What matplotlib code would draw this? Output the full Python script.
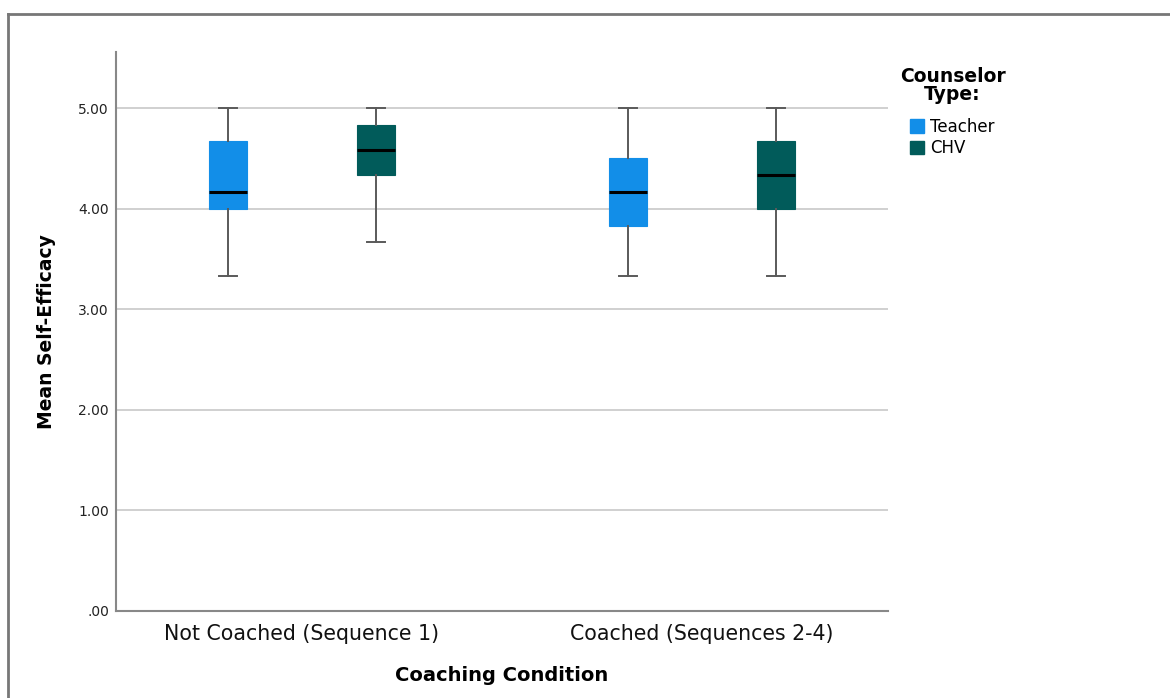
import matplotlib
matplotlib.use("Agg")
import matplotlib.pyplot as plt
from matplotlib.patches import Patch
from matplotlib.lines import Line2D

plt.rcParams['font.family'] = ['DejaVu Sans']

conditions = ["Not Coached (Sequence 1)", "Coached (Sequences 2-4)"]
counselor_types = ["Teacher", "CHV"]
colors = {"Teacher": "#128ee8", "CHV": "#015b5a"}

# five-number summaries per counselor type, one entry per condition
whislo = {"Teacher": [3.33, 3.33], "CHV": [3.67, 3.33]}
q1 = {"Teacher": [4.00, 3.83], "CHV": [4.33, 4.00]}
med = {"Teacher": [4.17, 4.17], "CHV": [4.58, 4.33]}
q3 = {"Teacher": [4.67, 4.50], "CHV": [4.83, 4.67]}
whishi = {"Teacher": [5.00, 5.00], "CHV": [5.00, 5.00]}

yticks = [0, 1, 2, 3, 4, 5]
ytick_labels = [".00", "1.00", "2.00", "3.00", "4.00", "5.00"]

fig = plt.figure(figsize=(11.7, 6.98), dpi=100)
ax = fig.add_axes([116/1170, 1-611/698, (888-116)/1170, (611-52)/698])

offsets = {"Teacher": -0.185, "CHV": 0.185}
for t in counselor_types:
    stats = []
    for i in range(len(conditions)):
        stats.append(dict(whislo=whislo[t][i], q1=q1[t][i], med=med[t][i],
                          q3=q3[t][i], whishi=whishi[t][i], fliers=[]))
    pos = [i + offsets[t] for i in range(len(conditions))]
    ax.bxp(stats, positions=pos, widths=0.093, patch_artist=True, showfliers=False,
           boxprops=dict(facecolor=colors[t], edgecolor=colors[t], linewidth=0.8),
           medianprops=dict(color="black", linewidth=2.2),
           whiskerprops=dict(color="#5a5a5a", linewidth=1.4),
           capprops=dict(color="#5a5a5a", linewidth=1.4),
           capwidths=0.045, zorder=3)

ax.set_xlim(-0.465, 1.465)
ax.set_ylim(0, 5.557)
ax.set_yticks(yticks)
ax.set_yticklabels(ytick_labels, fontsize=10, color="#222222")
ax.set_xticks(range(len(conditions)))
ax.set_xticklabels(conditions, fontsize=14.8, color="#111111")
ax.tick_params(axis="y", length=0, pad=5)
ax.tick_params(axis="x", length=0, pad=9)
ax.yaxis.grid(True, color="#c8c8c8", linewidth=1.2, zorder=0)
ax.set_axisbelow(True)

for s in ["top", "right"]:
    ax.spines[s].set_visible(False)
for s in ["left", "bottom"]:
    ax.spines[s].set_color("#888888")
    ax.spines[s].set_linewidth(1.5)

ax.set_xlabel("Coaching Condition", fontsize=14, fontweight="bold", labelpad=16)
ax.set_ylabel("Mean Self-Efficacy", fontsize=13.5, fontweight="bold", labelpad=16)

handles = [Patch(facecolor=colors[t], edgecolor=colors[t]) for t in counselor_types]
leg = fig.legend(handles, counselor_types, title="Counselor\nType:",
                 loc="upper left", bbox_to_anchor=(893/1170, 1-60/698),
                 frameon=False, fontsize=12, handlelength=0.85, handleheight=0.85,
                 handletextpad=0.35, labelspacing=0.2, borderaxespad=0)
leg.get_title().set_fontweight("bold")
leg.get_title().set_fontsize(13.5)
leg.get_title().set_multialignment("center")
leg.get_title().set_linespacing(0.95)
leg._legend_box.align = "center"
leg._legend_box.sep = 10

# outer frame around the chart area
fig.add_artist(Line2D([8/1170, 1], [1-14/698, 1-14/698], color="#777777", linewidth=2,
                      transform=fig.transFigure))
fig.add_artist(Line2D([8/1170, 8/1170], [0, 1-14/698], color="#777777", linewidth=2,
                      transform=fig.transFigure))

fig.savefig("out.png", dpi=100)
